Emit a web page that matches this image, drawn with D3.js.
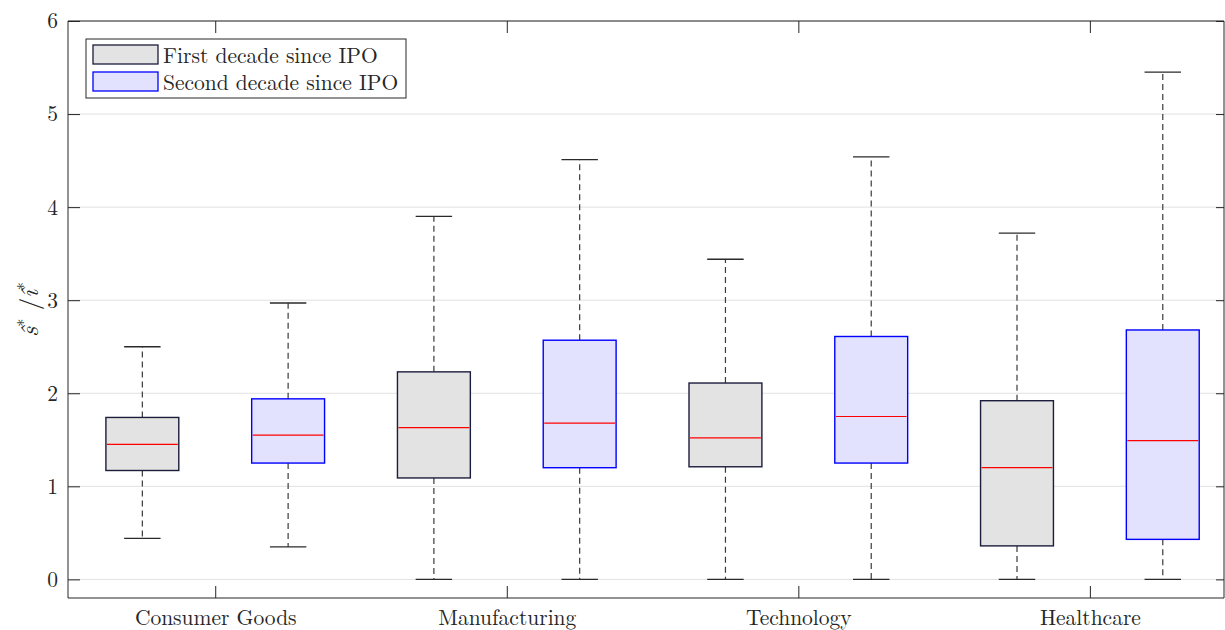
<!DOCTYPE html>
<html>
<head>
<meta charset="utf-8">
<script src="https://cdn.jsdelivr.net/npm/d3@7"></script>
<style>
  body { margin: 0; background: #fff; }
  svg text { font-family: "Latin Modern Roman", "CMU Serif", "Liberation Serif", serif; fill: #262626; }
</style>
</head>
<body>
<svg id="chart" width="1225" height="630"></svg>
<script>
(function() {

// categories and groups
var categories = ["Consumer Goods", "Manufacturing", "Technology", "Healthcare"];
var groups = ["First decade since IPO", "Second decade since IPO"];

// box statistics per group (one value per category)
var firstLow  = [0.44, 0.00, 0.00, 0.00];
var firstQ1   = [1.17, 1.09, 1.21, 0.36];
var firstMed  = [1.45, 1.63, 1.52, 1.20];
var firstQ3   = [1.74, 2.23, 2.11, 1.92];
var firstHigh = [2.50, 3.90, 3.44, 3.72];

var secondLow  = [0.35, 0.00, 0.00, 0.00];
var secondQ1   = [1.25, 1.20, 1.25, 0.43];
var secondMed  = [1.55, 1.68, 1.75, 1.49];
var secondQ3   = [1.94, 2.57, 2.61, 2.68];
var secondHigh = [2.97, 4.51, 4.54, 5.45];

var yTicks = [0, 1, 2, 3, 4, 5, 6];

// plot area
var left = 68, right = 1224, top = 21, bottom = 598;

var svg = d3.select("#chart");

var x = d3.scaleLinear().domain([0.49, 8.42]).range([left, right]);
var y = d3.scaleLinear().domain([-0.2, 6]).range([bottom, top]);

// build box list from the arrays
var boxes = [];
categories.forEach(function(c, i) {
  boxes.push({ pos: i * 2 + 1, g: 0, low: firstLow[i], q1: firstQ1[i], med: firstMed[i], q3: firstQ3[i], high: firstHigh[i] });
  boxes.push({ pos: i * 2 + 2, g: 1, low: secondLow[i], q1: secondQ1[i], med: secondMed[i], q3: secondQ3[i], high: secondHigh[i] });
});

var fills = ["#e3e3e3", "#e2e2ff"];
var strokes = ["#1c1c3c", "#0000ff"];
var boxW = 0.5, capW = 0.25;

// grid lines
svg.append("g").selectAll("line")
  .data(yTicks)
  .enter().append("line")
  .attr("x1", left).attr("x2", right)
  .attr("y1", function(d) { return y(d); })
  .attr("y2", function(d) { return y(d); })
  .attr("stroke", "#e1e1e1")
  .attr("stroke-width", 1);

// whiskers
var wg = svg.append("g");
boxes.forEach(function(b) {
  var cx = x(b.pos);
  wg.append("line").attr("x1", cx).attr("x2", cx).attr("y1", y(b.q3)).attr("y2", y(b.high))
    .attr("stroke", "#3a3a3a").attr("stroke-width", 1.2).attr("stroke-dasharray", "6,4");
  wg.append("line").attr("x1", cx).attr("x2", cx).attr("y1", y(b.q1)).attr("y2", y(b.low))
    .attr("stroke", "#3a3a3a").attr("stroke-width", 1.2).attr("stroke-dasharray", "6,4");
  [b.low, b.high].forEach(function(v) {
    wg.append("line")
      .attr("x1", x(b.pos - capW / 2)).attr("x2", x(b.pos + capW / 2))
      .attr("y1", y(v)).attr("y2", y(v))
      .attr("stroke", "#2a2a2a").attr("stroke-width", 1.3);
  });
});

// boxes
svg.append("g").selectAll("rect")
  .data(boxes)
  .enter().append("rect")
  .attr("x", function(d) { return x(d.pos - boxW / 2); })
  .attr("width", function(d) { return x(d.pos + boxW / 2) - x(d.pos - boxW / 2); })
  .attr("y", function(d) { return y(d.q3); })
  .attr("height", function(d) { return y(d.q1) - y(d.q3); })
  .attr("fill", function(d) { return fills[d.g]; })
  .attr("stroke", function(d) { return strokes[d.g]; })
  .attr("stroke-width", 1.4);

// medians
svg.append("g").selectAll("line")
  .data(boxes)
  .enter().append("line")
  .attr("x1", function(d) { return x(d.pos - boxW / 2) + 1; })
  .attr("x2", function(d) { return x(d.pos + boxW / 2) - 1; })
  .attr("y1", function(d) { return y(d.med); })
  .attr("y2", function(d) { return y(d.med); })
  .attr("stroke", "#ff0000")
  .attr("stroke-width", 1.2);

// axes, MATLAB style with inward ticks and a full box
var axisColor = "#262626";
var catPos = categories.map(function(c, i) { return i * 2 + 1.5; });

var yAxis = d3.axisLeft(y).tickValues(yTicks).tickSize(-12).tickPadding(20).tickFormat(d3.format("d"));
var yAxisR = d3.axisRight(y).tickValues(yTicks).tickSize(-8).tickFormat("");
var xAxis = d3.axisBottom(x).tickValues(catPos).tickSize(-12).tickPadding(20)
  .tickFormat(function(d, i) { return categories[i]; });
var xAxisT = d3.axisTop(x).tickValues(catPos).tickSize(-12).tickFormat("");

function styleAxis(g) {
  g.select(".domain").attr("stroke", axisColor).attr("stroke-width", 1);
  g.selectAll(".tick line").attr("stroke", axisColor).attr("stroke-width", 1);
  g.selectAll(".tick text").attr("font-family", null).style("font-size", "21.5px").attr("fill", axisColor);
}

var gy = svg.append("g").attr("transform", "translate(" + left + ",0)").call(yAxis);
styleAxis(gy);
gy.select(".domain").attr("d", "M0," + top + "V" + bottom);
gy.selectAll(".tick text").attr("x", -10).attr("dy", "0.32em");

var gyr = svg.append("g").attr("transform", "translate(" + right + ",0)").call(yAxisR);
styleAxis(gyr);
gyr.select(".domain").attr("d", "M0," + top + "V" + bottom);

var gx = svg.append("g").attr("transform", "translate(0," + bottom + ")").call(xAxis);
styleAxis(gx);
gx.select(".domain").attr("d", "M" + left + ",0H" + right);
gx.selectAll(".tick text").attr("y", 12).attr("dy", "0.71em");

var gxt = svg.append("g").attr("transform", "translate(0," + top + ")").call(xAxisT);
styleAxis(gxt);
gxt.select(".domain").attr("d", "M" + left + ",0H" + right);

// y label
var yl = svg.append("text")
  .attr("transform", "translate(38," + ((top + bottom) / 2) + ") rotate(-90)")
  .attr("text-anchor", "middle")
  .style("font-size", "25px")
  .style("font-style", "italic");
yl.append("tspan").text("\u015D");
yl.append("tspan").attr("dy", -9).style("font-size", "16px").style("font-style", "normal").text("*");
yl.append("tspan").attr("dy", 9).style("font-style", "normal").text(" /");
yl.append("tspan").text("\u00EE");
yl.append("tspan").attr("dy", -9).style("font-size", "16px").style("font-style", "normal").text("*");

// legend
var lg = svg.append("g").attr("transform", "translate(86,39)");
lg.append("rect").attr("width", 320).attr("height", 59)
  .attr("fill", "#fff").attr("stroke", axisColor).attr("stroke-width", 1);
groups.forEach(function(g, i) {
  lg.append("rect")
    .attr("x", 7).attr("y", 6 + i * 27).attr("width", 65).attr("height", 19)
    .attr("fill", fills[i]).attr("stroke", strokes[i]).attr("stroke-width", 1.3);
  lg.append("text")
    .attr("x", 77).attr("y", 16 + i * 27).attr("dy", "0.35em")
    .style("font-size", "21.5px")
    .text(g);
});

})();
</script>
</body>
</html>
